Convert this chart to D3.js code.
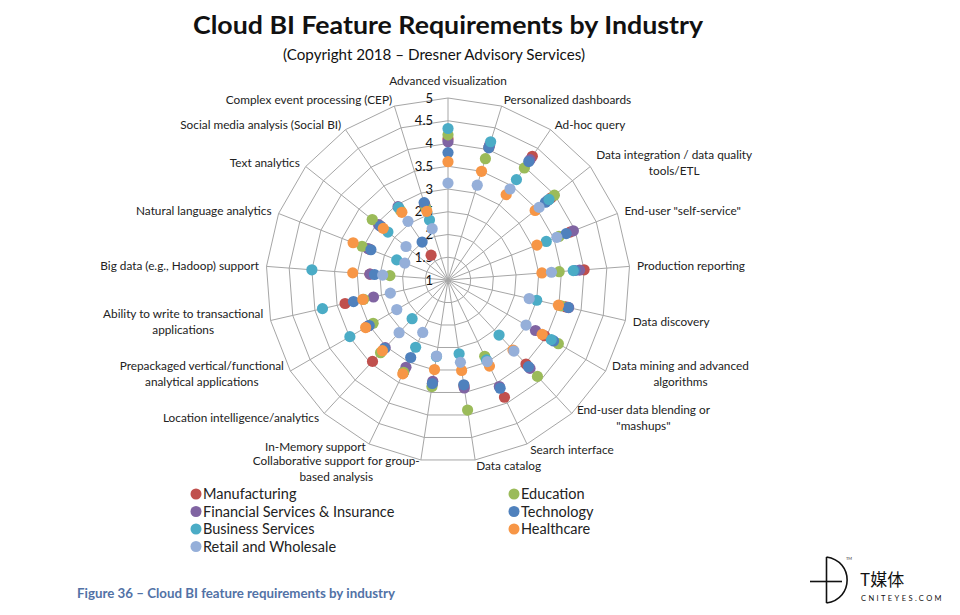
<!DOCTYPE html>
<html>
<head>
<meta charset="utf-8">
<script src="https://cdn.jsdelivr.net/npm/d3@7"></script>
<style>
  html, body { margin: 0; padding: 0; background: #fff; }
  svg { display: block; font-family: Lato, "Noto Sans", sans-serif; }
</style>
</head>
<body>
<svg id="chart" width="960" height="615"></svg>
<script>
// ---------------- DATA ----------------
const categories = [
  "Advanced visualization",
  "Personalized dashboards",
  "Ad-hoc query",
  "Data integration / data quality\ntools/ETL",
  "End-user \"self-service\"",
  "Production reporting",
  "Data discovery",
  "Data mining and advanced\nalgorithms",
  "End-user data blending or\n\"mashups\"",
  "Search interface",
  "Data catalog",
  "Collaborative support for group-\nbased analysis",
  "In-Memory support",
  "Location intelligence/analytics",
  "Prepackaged vertical/functional\nanalytical applications",
  "Ability to write to transactional\napplications",
  "Big data (e.g., Hadoop) support",
  "Natural language analytics",
  "Text analytics",
  "Social media analysis (Social BI)",
  "Complex event processing (CEP)"
];

const tickValues = [1, 1.5, 2, 2.5, 3, 3.5, 4, 4.5, 5];
const tickLabels = ["1", "1.5", "2", "2.5", "3", "3.5", "4", "4.5", "5"];

const seriesNames = ["Manufacturing", "Financial Services & Insurance", "Business Services",
  "Retail and Wholesale", "Education", "Technology", "Healthcare"];
const seriesColors = ["#C0504D", "#8064A2", "#4BACC6", "#95AFD9", "#9BBB59", "#4F81BD", "#F79646"];

const manufacturing = [4.10, 4.05, 4.29, 3.90, 3.88, 4.00, 3.65, 3.45, 3.52, 3.86, 3.35, 3.30, 3.25, 3.44, 3.05, 3.32, 2.72, 2.85, 2.90, 1.66, 2.75];
const financial     = [4.04, 4.10, 4.20, 3.80, 3.96, 3.90, 3.72, 3.22, 3.65, 3.60, 3.40, 3.25, 3.13, 3.03, 3.00, 2.68, 2.72, 2.89, 2.95, 2.95, 2.70];
const business      = [4.33, 4.18, 3.67, 3.84, 3.32, 3.76, 3.00, 3.62, 2.65, 2.95, 2.64, 2.70, 2.64, 2.16, 3.49, 3.83, 4.00, 2.21, 2.69, 2.93, 2.38];
const retail        = [3.13, 3.18, 3.42, 3.56, 3.57, 3.28, 2.83, 2.98, 3.13, 2.99, 2.83, 2.69, 2.28, 2.58, 2.30, 2.30, 2.44, 2.02, 2.18, 2.56, 2.18];
const education     = [4.19, 3.79, 3.98, 3.99, 3.62, 3.45, 3.55, 3.80, 3.89, 2.86, 3.89, 3.37, 3.25, 3.18, 2.90, 2.90, 2.28, 3.03, 3.13, 2.85, 2.65];
const technology    = [3.80, 4.04, 4.15, 3.74, 3.79, 3.80, 3.71, 3.68, 3.60, 3.64, 3.33, 3.30, 2.89, 3.05, 3.00, 3.13, 2.62, 2.82, 2.90, 2.01, 2.78];
const healthcare    = [3.60, 3.50, 3.27, 3.45, 3.10, 3.07, 3.49, 3.39, 3.10, 3.10, 3.01, 2.99, 3.29, 3.12, 3.09, 2.92, 3.10, 3.24, 2.82, 2.80, 2.58];

const seriesValues = [manufacturing, financial, business, retail, education, technology, healthcare];
const drawOrder = [0, 1, 4, 5, 2, 6, 3];

// ---------------- LAYOUT ----------------
const svg = d3.select("#chart");
const cx = 448, cy = 280, R = 182;
const n = categories.length;

const rScale = d3.scaleLinear().domain([1, 5]).range([0, R]);
const aScale = d3.scaleLinear().domain([0, n]).range([0, 2 * Math.PI]);

function pt(i, v) {
  const a = aScale(i), rr = rScale(v);
  return [cx + rr * Math.sin(a), cy - rr * Math.cos(a)];
}

// Title
svg.append("text").attr("x", 448).attr("y", 34).attr("text-anchor", "middle")
  .attr("font-size", 25).attr("font-weight", "bold").attr("fill", "#111")
  .attr("textLength", 510).attr("lengthAdjust", "spacingAndGlyphs")
  .text("Cloud BI Feature Requirements by Industry");
svg.append("text").attr("x", 434).attr("y", 60).attr("text-anchor", "middle")
  .attr("font-size", 14.5).attr("fill", "#111")
  .attr("textLength", 302).attr("lengthAdjust", "spacingAndGlyphs")
  .text("(Copyright 2018 \u2013 Dresner Advisory Services)");

// Grid
const grid = svg.append("g");
const lineGen = d3.line();
tickValues.filter(t => t > 1).forEach(t => {
  const pts = d3.range(n).map(i => pt(i, t));
  grid.append("path").attr("d", lineGen(pts) + "Z")
    .attr("fill", "none").attr("stroke", "#a6a6a6").attr("stroke-width", 1);
});
d3.range(n).forEach(i => {
  const p = pt(i, 5);
  grid.append("line").attr("x1", cx).attr("y1", cy).attr("x2", p[0]).attr("y2", p[1])
    .attr("stroke", "#a6a6a6").attr("stroke-width", 1);
});

// Tick labels
const tickG = svg.append("g");
tickValues.forEach((t, k) => {
  tickG.append("text").attr("x", cx - 15).attr("y", cy - rScale(t))
    .attr("dy", "0.35em").attr("text-anchor", "end")
    .attr("font-size", 13).attr("fill", "#111").text(tickLabels[k]);
});

// Category labels
const labG = svg.append("g");
const lineH = 15.5;
categories.forEach((c, i) => {
  const a = aScale(i), s = Math.sin(a), co = Math.cos(a);
  const v = pt(i, 5);
  const lines = c.split("\n");
  const g = labG.append("g");
  const texts = lines.map(l => g.append("text").attr("font-size", 11.8).attr("fill", "#222")
    .attr("text-anchor", "middle").text(l));
  const maxW = d3.max(texts, t => t.node().getComputedTextLength());
  let centerX, centerY;
  if (Math.abs(s) < 0.05) {
    centerX = v[0];
    centerY = v[1] - 17;
  } else {
    const dx = 7.5 * s;
    centerX = s > 0 ? v[0] + dx + maxW / 2 : v[0] + dx - maxW / 2;
    centerY = v[1] - 6 * co;
  }
  // small nudge to keep the two crowded bottom-left labels apart
  if (i === 12) centerY -= 3;
  if (i === 11) centerY += 3;
  const top = centerY - (lines.length - 1) * lineH / 2;
  texts.forEach((t, k) => t.attr("x", centerX).attr("y", top + k * lineH).attr("dy", "0.35em"));
});

// Markers
const markG = svg.append("g");
drawOrder.forEach(si => {
  markG.append("g").selectAll("circle").data(seriesValues[si]).join("circle")
    .attr("cx", (d, i) => pt(i, d)[0])
    .attr("cy", (d, i) => pt(i, d)[1])
    .attr("r", 5.6)
    .attr("fill", seriesColors[si]);
});

// Legend
const legendCols = [[0, 1, 2, 3], [4, 5, 6]];
const legX = [196, 514];
const legY = d3.scaleLinear().domain([0, 3]).range([494, 546.5]);
const legG = svg.append("g");
legendCols.forEach((col, ci) => {
  col.forEach((si, ri) => {
    legG.append("circle").attr("cx", legX[ci]).attr("cy", legY(ri)).attr("r", 5.5)
      .attr("fill", seriesColors[si]);
    legG.append("text").attr("x", legX[ci] + 7).attr("y", legY(ri)).attr("dy", "0.36em")
      .attr("font-size", 14.5).attr("fill", "#222").text(seriesNames[si]);
  });
});

// Caption
svg.append("text").attr("x", 77).attr("y", 598)
  .attr("font-size", 13).attr("font-weight", "bold").attr("fill", "#5272A6")
  .attr("textLength", 318).attr("lengthAdjust", "spacingAndGlyphs")
  .text("Figure 36 \u2013 Cloud BI feature requirements by industry");

// Watermark logo
const logo = svg.append("g");
logo.append("path").attr("d", "M826.5,557 L826.5,603 M826.5,557 C854,561 854,599 826.5,603")
  .attr("fill", "none").attr("stroke", "#111").attr("stroke-width", 1.6);
logo.append("line").attr("x1", 810).attr("y1", 581.5).attr("x2", 842).attr("y2", 581.5)
  .attr("stroke", "#111").attr("stroke-width", 1.6);
logo.append("text").attr("x", 846).attr("y", 560).attr("font-size", 4).attr("fill", "#333").text("TM");
logo.append("text").attr("x", 860).attr("y", 586).attr("font-size", 17)
  .attr("font-family", "'Noto Sans CJK SC', sans-serif").attr("fill", "#111").text("T媒体");
logo.append("text").attr("x", 861).attr("y", 601).attr("font-size", 7.5)
  .attr("letter-spacing", 2.4).attr("fill", "#111").text("CNITEYES.COM");
</script>
</body>
</html>
